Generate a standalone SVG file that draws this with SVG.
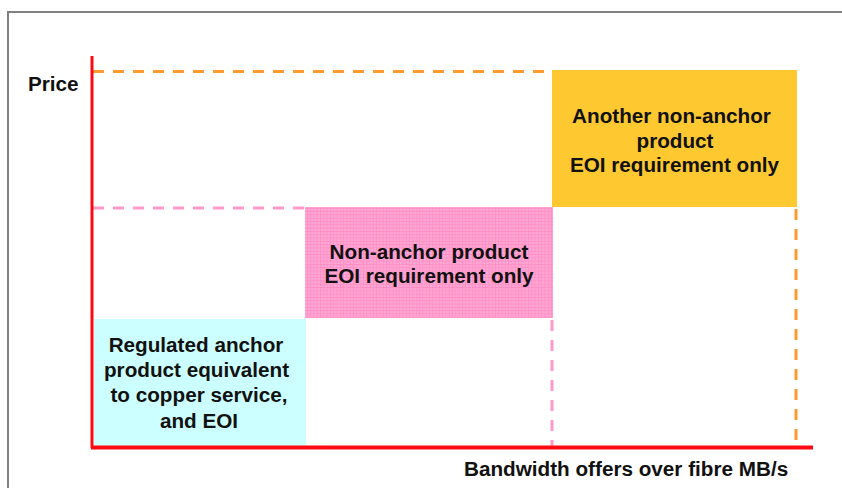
<svg xmlns="http://www.w3.org/2000/svg" width="842" height="488" viewBox="0 0 842 488">
<defs>
<pattern id="grid" width="3.3" height="3.3" patternUnits="userSpaceOnUse">
<rect width="3.3" height="3.3" fill="#FFA6D3"/>
<path d="M0 0.4H3.3M0.4 0V3.3" stroke="#FF8EC6" stroke-width="0.8"/>
</pattern>
<style>
.t{font-family:"Liberation Sans",Arial,sans-serif;font-weight:bold;font-size:20.7px;fill:#111;}
.c{text-anchor:middle;}
.axis{stroke:#FF0A14;fill:none;}
.od{stroke:#FF9A30;stroke-width:3;stroke-dasharray:11 9;fill:none;}
.pd{stroke:#FF99CC;stroke-width:3;stroke-dasharray:11 9;fill:none;}
</style>
</defs>
<rect width="842" height="488" fill="#fff"/>
<path d="M8 490V12H845" fill="none" stroke="#808080" stroke-width="2"/>

<g id="cyan-box">
<rect x="94" y="319" width="212" height="128" fill="#CCFFFF"/>
<text class="t c" x="196" y="352">Regulated anchor</text>
<text class="t c" x="196.5" y="377">product equivalent</text>
<text class="t c" x="199" y="402">to copper service,</text>
<text class="t c" x="199" y="428">and EOI</text>
</g>

<g id="pink-box">
<rect x="305" y="207" width="248" height="111" fill="url(#grid)"/>
<text class="t c" x="429" y="258.5">Non-anchor product</text>
<text class="t c" x="429" y="283">EOI requirement only</text>
</g>

<g id="yellow-box">
<rect x="552" y="70" width="245" height="137" fill="#FDC830"/>
<text class="t c" x="671.5" y="123">Another non-anchor</text>
<text class="t c" x="675" y="147.5">product</text>
<text class="t c" x="674.5" y="172">EOI requirement only</text>
</g>

<g id="connectors">
<path class="od" d="M93 71.5H552"/>
<path class="od" d="M796 209V446"/>
<path class="pd" d="M93 208H305"/>
<path class="pd" d="M552 320V446"/>
<path class="axis" stroke-width="3" d="M92 56V448"/>
<path class="axis" stroke-width="4" d="M91 447.5H813"/>
</g>

<g id="labels">
<text class="t" x="28" y="91">Price</text>
<text class="t" x="464" y="476">Bandwidth offers over fibre MB/s</text>
</g>
</svg>
